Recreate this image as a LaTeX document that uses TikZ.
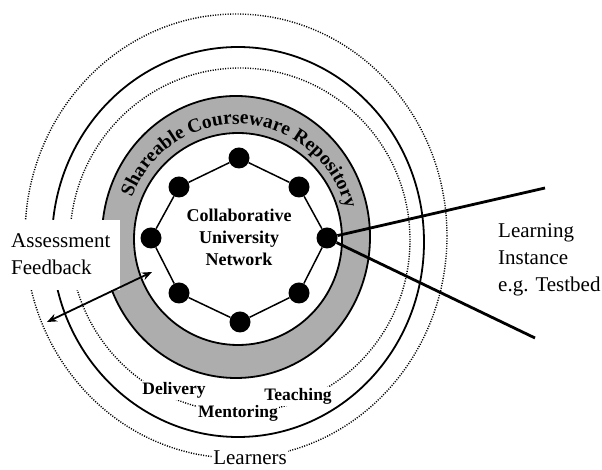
\documentclass[tikz,border=0pt]{standalone}
\usepackage{fontspec}
\setmainfont{Liberation Serif}
\usetikzlibrary{decorations.text,arrows.meta}
\definecolor{ringgray}{gray}{0.68}
\begin{document}
\begin{tikzpicture}[x=1pt,y=1pt,
  dotc/.style={line width=1.4pt, dash pattern=on 1.1pt off 1.4pt},
  solidc/.style={line width=1.8pt},
  ringline/.style={line width=1.8pt},
  netdot/.style={circle, fill=black, minimum size=21pt, inner sep=0pt},
  netedge/.style={line width=1.5pt},
  spoke/.style={line width=2.8pt},
  arr/.style={line width=1.8pt, {Stealth[length=10pt,width=8pt]}-{Stealth[length=10pt,width=8pt]}},
  lbl/.style={font=\fontsize{21}{21}\selectfont, inner sep=0pt, anchor=base west},
  blbl/.style={font=\fontsize{17.5}{17.5}\selectfont\bfseries, inner sep=1.5pt, anchor=base, fill=white},
  nlbl/.style={font=\fontsize{18}{18}\selectfont\bfseries, inner sep=0pt, anchor=base},
  llbl/.style={font=\fontsize{21}{21}\selectfont, inner sep=1pt, anchor=base, fill=white}
]
\useasboundingbox (0,0) rectangle (602,470);

% outer rings
\draw[dotc] (236,234) ellipse [x radius=211, y radius=222];
\draw[solidc] (238,228) ellipse [x radius=186, y radius=195];
\draw[dotc] (240,230) ellipse [x radius=170, y radius=172];

% repository ring
\fill[ringgray, even odd rule] (236,233) ellipse [x radius=134, y radius=141]
      (238,231) ellipse [x radius=104, y radius=106];
\draw[ringline] (236,233) ellipse [x radius=134, y radius=141];
\draw[ringline] (238,231) ellipse [x radius=104, y radius=106];

\path[decorate, decoration={text along path,
   text={|\fontsize{19.5}{19.5}\selectfont\bfseries|Shareable Courseware Repository},
   text align=center}]
   (237,233) ++(182:112 and 113) arc[start angle=182, end angle=-8, x radius=112, y radius=113];

% label box on the left
\fill[white] (0,180) rectangle (120,250);
\node[lbl] (assess) at (11,222) {Assessment};
\node[lbl] (feed) at (11,195) {Feedback};

% labels on the rings
\node[blbl] (deliv) at (174,75) {Delivery};
\node[blbl] (teach) at (298,69) {Teaching};
\node[blbl] (mentor) at (238,52) {Mentoring};
\node[llbl] (learners) at (250,5) {Learners};

% right label
\node[lbl] (li1) at (498,232) {Learning};
\node[lbl] (li2) at (498,205) {Instance};
\node[lbl] (li3) at (498,178) {e.g. Testbed};

% network
\node[netdot] (nt) at (239,312) {};
\node[netdot] (ntr) at (299,283) {};
\node[netdot] (nr) at (327,232) {};
\node[netdot] (nbr) at (299,177) {};
\node[netdot] (nb) at (240,148) {};
\node[netdot] (nbl) at (179,177) {};
\node[netdot] (nl) at (151,232) {};
\node[netdot] (ntl) at (179,283) {};
\draw[netedge] (nt) -- (ntr);
\draw[netedge] (ntr) -- (nr);
\draw[netedge] (nr) -- (nbr);
\draw[netedge] (nbr) -- (nb);
\draw[netedge] (nb) -- (nbl);
\draw[netedge] (nbl) -- (nl);
\draw[netedge] (nl) -- (ntl);
\draw[netedge] (ntl) -- (nt);

\node[nlbl] (c1) at (239,248) {Collaborative};
\node[nlbl] (c2) at (239,226) {University};
\node[nlbl] (c3) at (239,204) {Network};

% spokes to learning instance
\coordinate (e1) at (545,282);
\coordinate (e2) at (535,132);
\draw[spoke] (nr) -- (e1);
\draw[spoke] (nr) -- (e2);

% assessment arrow
\coordinate (a1) at (47,148);
\coordinate (a2) at (152,198);
\draw[arr] (a1) -- (a2);
\end{tikzpicture}
\end{document}
